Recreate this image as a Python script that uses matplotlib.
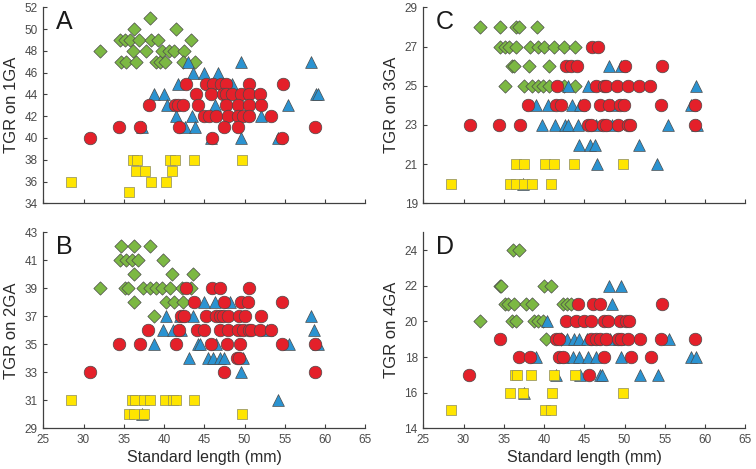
import matplotlib
matplotlib.use("Agg")
import matplotlib.pyplot as plt

plt.rcParams['font.family'] = ['Liberation Sans', 'DejaVu Sans']

# ---------------- Panel A (TGR on 1GA) ----------------
A_green_x = [32.0, 34.5, 35.2, 35.8, 36.3, 36.9, 36.1, 34.6, 35.3, 36.5, 37.8, 38.3, 38.4,
             39.2, 39.0, 39.5, 40.1, 39.8, 40.6, 41.2, 41.5, 42.5, 43.4, 42.3, 43.8]
A_green_y = [48, 49, 49, 49, 50, 49, 48, 47, 47, 47, 48, 51, 49,
             49, 47, 47, 47, 48, 48, 48, 50, 48, 49, 47, 47]
A_blue_x = [49.6, 58.3, 43.0, 43.6, 45.0, 46.7, 41.7, 48.5, 38.75, 40.0, 58.9, 59.1,
            40.4, 46.3, 55.4, 41.5, 43.5, 52.1, 37.2, 42.6, 43.8, 45.8, 49.6, 54.2]
A_blue_y = [47, 47, 47, 46, 46, 46, 45, 45, 44, 44, 44, 44,
            43, 43, 43, 42, 42, 42, 41, 41, 41, 40, 40, 40]
A_red_x = [42.7, 45.2, 46.1, 47.1, 47.7, 50.5, 54.8,
           44.0, 45.8, 47.3, 47.7, 48.5, 49.6, 50.5, 51.9,
           38.1, 41.3, 41.7, 42.3, 44.2, 47.7, 49.2, 50.6, 52.0,
           45.0, 45.6, 46.5, 47.9, 49.2, 49.8, 50.6, 53.3,
           34.4, 37.0, 41.9, 47.4, 49.2, 58.8,
           30.75, 45.9, 54.7]
A_red_y = [45, 45, 45, 45, 45, 45, 45,
           44, 44, 44, 44, 44, 44, 44, 44,
           43, 43, 43, 43, 43, 43, 43, 43, 43,
           42, 42, 42, 42, 42, 42, 42, 42,
           41, 41, 41, 41, 41, 41,
           40, 40, 40]
A_yellow_x = [28.5, 35.7, 36.2, 36.6, 36.5, 37.6, 38.4, 40.2, 40.8, 41.3, 41.0, 43.7, 49.7]
A_yellow_y = [36, 35, 38, 38, 37, 37, 36, 36, 38, 38, 37, 38, 38]

# ---------------- Panel B (TGR on 2GA) ----------------
B_green_x = [34.6, 36.25, 38.3, 34.5, 35.3, 36.0, 36.75, 39.9, 36.25, 41.0, 43.6,
             32.0, 35.1, 35.5, 37.4, 38.2, 39.0, 39.75, 40.7, 42.2, 43.3,
             36.3, 40.3, 41.2, 42.3, 38.75]
B_green_y = [42, 42, 42, 41, 41, 41, 41, 41, 40, 40, 40,
             39, 39, 39, 39, 39, 39, 39, 39, 39, 39,
             38, 38, 38, 38, 37]
B_blue_x = [45.0, 46.3, 48.2, 40.3, 42.0, 43.6, 58.2, 39.9, 41.1, 42.1, 52.8, 58.6,
            38.7, 44.2, 44.5, 46.5, 55.5, 59.1, 43.1, 45.4, 46.05, 46.9, 47.5, 49.8,
            49.6, 54.2, 37.3]
B_blue_y = [38, 38, 38, 37, 37, 37, 37, 36, 36, 36, 36, 36,
            35, 35, 35, 35, 35, 35, 34, 34, 34, 34, 34, 34,
            33, 31, 30]
B_red_x = [42.7, 45.9, 46.9, 50.6,
           43.75, 47.5, 49.5, 50.4, 54.7,
           42.1, 42.5, 45.2, 46.5, 46.9, 47.3, 47.9, 49.25, 50.1, 52.0,
           38.0, 41.9, 44.1, 45.0, 46.9, 47.9, 49.2, 49.8, 50.6, 50.8, 51.9, 53.3,
           34.4, 37.0, 41.5, 45.8, 47.8, 49.4, 54.6, 58.8,
           49.0, 49.25,
           30.75, 47.4, 58.75]
B_red_y = [39, 39, 39, 39,
           38, 38, 38, 38, 38,
           37, 37, 37, 37, 37, 37, 37, 37, 37, 37,
           36, 36, 36, 36, 36, 36, 36, 36, 36, 36, 36, 36,
           35, 35, 35, 35, 35, 35, 35, 35,
           34, 34,
           33, 33, 33]
B_yellow_x = [28.4, 36.0, 36.4, 37.5, 38.3, 40.1, 41.1, 41.5, 43.7, 35.6, 36.3, 37.5, 49.7]
B_yellow_y = [31, 31, 31, 31, 31, 31, 31, 31, 31, 30, 30, 30, 30]

# ---------------- Panel C (TGR on 3GA) ----------------
C_green_x = [32.0, 34.5, 36.5, 36.9, 39.1,
             34.5, 35.2, 35.6, 36.5, 38.25, 39.2, 40.0, 41.2, 42.5, 43.8,
             36.0, 36.3, 38.1, 40.6,
             35.2, 37.5, 38.5, 39.2, 39.9, 40.6, 42.5, 43.8]
C_green_y = [28, 28, 28, 28, 28,
             27, 27, 27, 27, 27, 27, 27, 27, 27, 27,
             26, 26, 26, 26,
             25, 25, 25, 25, 25, 25, 25, 25]
C_blue_x = [48.1, 49.5,
            43.0, 45.5, 58.9,
            39.0, 40.5, 43.5, 44.5, 48.4, 58.2,
            39.7, 41.4, 42.6, 43.0, 44.2, 46.4, 48.4, 55.4, 59.0,
            44.3, 45.7, 46.3, 51.8,
            46.6, 54.0,
            37.4]
C_blue_y = [26, 26,
            25, 25, 25,
            24, 24, 24, 24, 24, 24,
            23, 23, 23, 23, 23, 23, 23, 23, 23,
            22, 22, 22, 22,
            21, 21,
            20]
C_red_x = [46.0, 46.75,
           42.7, 43.3, 44.1, 50.0, 54.7,
           41.6, 46.5, 47.5, 47.7, 49.1, 50.4, 51.75, 53.1,
           38.0, 41.5, 42.1, 45.0, 46.9, 48.1, 49.4, 49.9, 54.5, 58.8,
           30.75, 34.4, 37.0, 45.5, 45.8, 47.3, 47.7, 49.2, 50.4, 50.7, 58.75]
C_red_y = [27, 27,
           26, 26, 26, 26, 26,
           25, 25, 25, 25, 25, 25, 25, 25,
           24, 24, 24, 24, 24, 24, 24, 24, 24, 24,
           23, 23, 23, 23, 23, 23, 23, 23, 23, 23, 23]
C_yellow_x = [36.5, 37.5, 40.1, 41.2, 43.75, 49.8, 28.5, 35.75, 36.5, 37.5, 38.5, 40.9]
C_yellow_y = [21, 21, 21, 21, 21, 21, 20, 20, 20, 20, 20, 20]

# ---------------- Panel D (TGR on 4GA) ----------------
D_green_x = [36.1, 36.85,
             34.5, 34.7, 40.0, 40.9,
             35.2, 35.5, 36.25, 37.7, 38.45, 42.4, 42.9, 43.3,
             32.0, 36.0, 36.5, 38.75, 39.25, 39.9,
             40.3, 42.1]
D_green_y = [24, 24,
             22, 22, 22, 22,
             21, 21, 21, 21, 21, 21, 21, 21,
             20, 20, 20, 20, 20, 20,
             19, 19]
D_blue_x = [48.1, 49.6,
            48.5,
            40.35,
            42.8, 43.75, 44.4, 45.3, 46.3, 48.2, 49.3, 55.5,
            39.0, 42.4, 43.55, 44.4, 45.4, 46.5, 49.6, 58.25, 58.9,
            41.5, 44.5, 46.9, 47.2, 51.9, 54.2,
            37.45]
D_blue_y = [22, 22,
            21,
            20,
            19, 19, 19, 19, 19, 19, 19, 19,
            18, 18, 18, 18, 18, 18, 18, 18, 18,
            17, 17, 17, 17, 17, 17,
            16]
D_red_x = [44.2, 46.05, 46.9, 54.7,
           42.7, 43.96, 45.0, 45.8, 47.5, 47.9, 49.4, 50.2, 50.6,
           34.5, 41.5, 41.9, 45.8, 46.5, 46.9, 47.7, 49.2, 49.6, 50.4, 51.9, 54.5, 58.75,
           36.9, 38.2, 41.9, 42.3, 47.5, 50.75, 53.25,
           30.7, 45.55]
D_red_y = [21, 21, 21, 21,
           20, 20, 20, 20, 20, 20, 20, 20, 20,
           19, 19, 19, 19, 19, 19, 19, 19, 19, 19, 19, 19, 19,
           18, 18, 18, 18, 18, 18, 18,
           17, 17]
D_yellow_x = [36.4, 36.7, 38.4, 41.2, 43.8, 35.8, 37.4, 41.0, 49.8, 28.5, 40.1, 40.9]
D_yellow_y = [17, 17, 17, 17, 17, 16, 16, 16, 16, 15, 15, 15]

x_ticks = [25, 30, 35, 40, 45, 50, 55, 60, 65]
x_label = "Standard length (mm)"

GREEN = '#7cb843'
BLUE = '#2b93d1'
RED = '#e4202a'
YELLOW = '#ffe500'
EDGE = '#4a4a4a'
AXC = '#404040'

fig = plt.figure(figsize=(7.56, 4.69), dpi=100)

W, H = 756.0, 469.0
def ax_rect(x0, x1, ytop, ybot):
    return [x0 / W, 1 - ybot / H, (x1 - x0) / W, (ybot - ytop) / H]

panels = [
    dict(rect=ax_rect(43.3, 365.3, 7.3, 203.3), ylim=(34, 52), yt=list(range(34, 53, 2)),
         ylabel="TGR on 1GA", letter="A", xl=False,
         g=(A_green_x, A_green_y), b=(A_blue_x, A_blue_y), r=(A_red_x, A_red_y), y=(A_yellow_x, A_yellow_y)),
    dict(rect=ax_rect(43.3, 365.3, 232.3, 428.3), ylim=(29, 43), yt=list(range(29, 44, 2)),
         ylabel="TGR on 2GA", letter="B", xl=True,
         g=(B_green_x, B_green_y), b=(B_blue_x, B_blue_y), r=(B_red_x, B_red_y), y=(B_yellow_x, B_yellow_y)),
    dict(rect=ax_rect(423.3, 745.3, 7.3, 203.3), ylim=(19, 29), yt=list(range(19, 30, 2)),
         ylabel="TGR on 3GA", letter="C", xl=False,
         g=(C_green_x, C_green_y), b=(C_blue_x, C_blue_y), r=(C_red_x, C_red_y), y=(C_yellow_x, C_yellow_y)),
    dict(rect=ax_rect(423.3, 745.3, 232.3, 428.3), ylim=(14, 25), yt=list(range(14, 25, 2)),
         ylabel="TGR on 4GA", letter="D", xl=True,
         g=(D_green_x, D_green_y), b=(D_blue_x, D_blue_y), r=(D_red_x, D_red_y), y=(D_yellow_x, D_yellow_y)),
]

for p in panels:
    ax = fig.add_axes(p['rect'])
    ax.scatter(*p['g'], marker='D', s=46, c=GREEN, edgecolors=EDGE, linewidths=0.5, zorder=2)
    ax.scatter(*p['b'], marker='^', s=72, c=BLUE, edgecolors=EDGE, linewidths=0.5, zorder=3)
    ax.scatter(*p['y'], marker='s', s=56, c=YELLOW, edgecolors='#8a8a60', linewidths=0.5, zorder=3)
    ax.scatter(*p['r'], marker='o', s=82, c=RED, edgecolors=EDGE, linewidths=0.5, zorder=4)
    ax.set_xlim(25, 65)
    ax.set_ylim(*p['ylim'])
    ax.set_xticks(x_ticks)
    ax.set_yticks(p['yt'])
    for s in ['top', 'right']:
        ax.spines[s].set_visible(False)
    for s in ['left', 'bottom']:
        ax.spines[s].set_color(AXC)
        ax.spines[s].set_linewidth(0.9)
    ax.tick_params(direction='in', length=3, width=0.8, color=AXC, labelsize=8.5,
                   labelcolor='#4a4a4a', pad=4)
    if not p['xl']:
        ax.set_xticklabels([])
    else:
        ax.set_xlabel(x_label, fontsize=11.5, color='#2a2a2a', labelpad=3)
    ax.set_ylabel(p['ylabel'], fontsize=12, color='#2a2a2a', labelpad=4)
    ax.text(0.04, 0.985, p['letter'], transform=ax.transAxes, fontsize=18,
            va='top', ha='left', color='#1a1a1a')

fig.savefig('out.png', dpi=100)
